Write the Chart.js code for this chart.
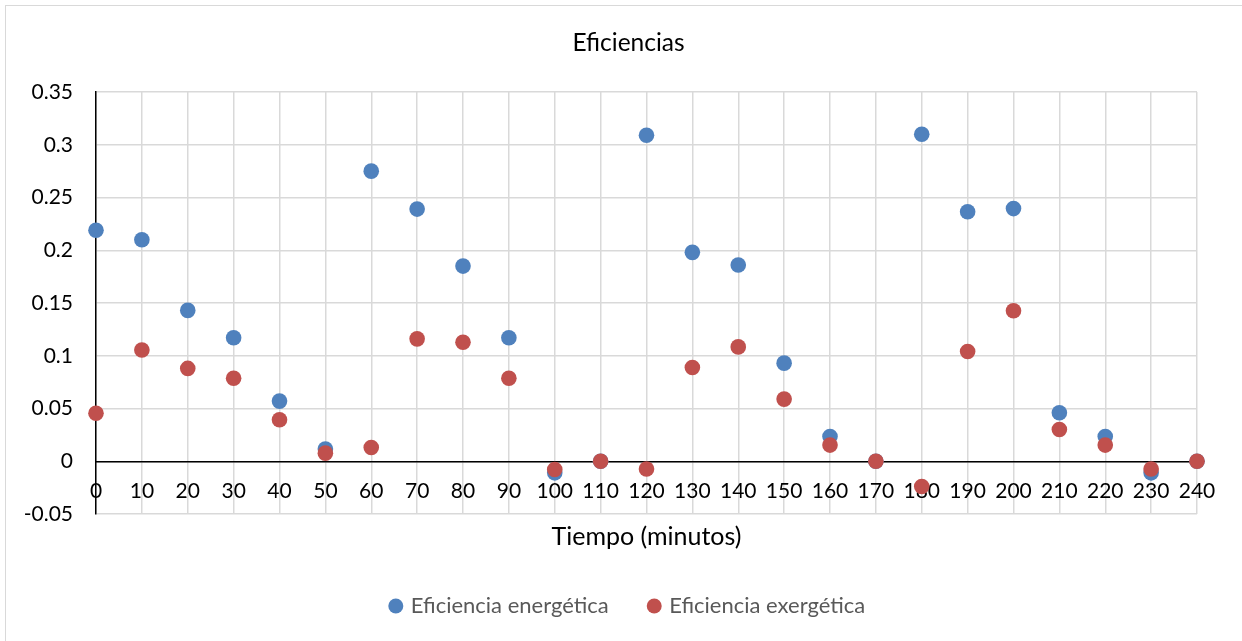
<!DOCTYPE html>
<html lang="es">
<head>
<meta charset="utf-8">
<title>Eficiencias</title>
<script src="https://cdn.jsdelivr.net/npm/chart.js@4/dist/chart.umd.min.js"></script>
<style>
  html, body { margin: 0; padding: 0; background: #fff; overflow: hidden; }
  #wrap { position: relative; width: 1242px; height: 641px; }
  #frame { position: absolute; left: 5px; top: 5px; width: 1300px; height: 700px;
           border: 1.5px solid #D9D9D9; box-sizing: border-box; }
  #c { position: absolute; left: 0; top: 0; }
</style>
</head>
<body>
<div id="wrap">
  <div id="frame"></div>
  <canvas id="c" width="1242" height="641"></canvas>
</div>
<script>
// Tiempo (minutos)
const tiempos = [0, 10, 20, 30, 40, 50, 60, 70, 80, 90, 100, 110, 120,
                 130, 140, 150, 160, 170, 180, 190, 200, 210, 220, 230, 240];

// Eficiencia energética
const energetica = [0.219, 0.210, 0.143, 0.117, 0.057, 0.0115, 0.275, 0.239, 0.185, 0.117,
                    -0.011, 0, 0.309, 0.198, 0.186, 0.093, 0.0235, 0, 0.310, 0.2365,
                    0.2395, 0.046, 0.0235, -0.011, 0];

// Eficiencia exergética
const exergetica = [0.0455, 0.1055, 0.088, 0.0787, 0.0393, 0.0077, 0.013, 0.116, 0.1128, 0.0787,
                    -0.0078, 0, -0.0074, 0.0888, 0.1084, 0.0589, 0.0153, 0, -0.024, 0.104,
                    0.1427, 0.0301, 0.0153, -0.0074, 0];

// Axis ticks
const xTicks = [0, 10, 20, 30, 40, 50, 60, 70, 80, 90, 100, 110, 120,
                130, 140, 150, 160, 170, 180, 190, 200, 210, 220, 230, 240];
const xTickLabels = xTicks.map(String);
const yTicks = [-0.05, 0, 0.05, 0.1, 0.15, 0.2, 0.25, 0.3, 0.35];
const yTickLabels = ['-0.05', '0', '0.05', '0.1', '0.15', '0.2', '0.25', '0.3', '0.35'];

const FAMILY = 'Lato, "Open Sans", sans-serif';
const tickFont = { family: FAMILY, size: 21 };
const GRID = '#D9D9D9';

const toPoints = ys => tiempos.map((t, i) => ({ x: t, y: ys[i] }));

new Chart(document.getElementById('c'), {
  type: 'scatter',
  data: {
    datasets: [
      {
        label: 'Eficiencia energética',
        data: toPoints(energetica),
        backgroundColor: '#4F81BD',
        borderColor: '#4F81BD',
        borderWidth: 0,
        pointRadius: 7.8,
        pointHoverRadius: 7.8,
        clip: false,
        order: 1
      },
      {
        label: 'Eficiencia exergética',
        data: toPoints(exergetica),
        backgroundColor: '#C0504D',
        borderColor: '#C0504D',
        borderWidth: 0,
        pointRadius: 7.8,
        pointHoverRadius: 7.8,
        clip: false,
        order: 0
      }
    ]
  },
  options: {
    responsive: false,
    animation: false,
    devicePixelRatio: 1,
    layout: { padding: { left: 15, right: 0, top: 0, bottom: 14 } },
    plugins: {
      tooltip: { enabled: false },
      title: {
        display: true,
        text: 'Eficiencias',
        color: '#000',
        font: { family: FAMILY, size: 24.5, weight: 'normal' },
        padding: { top: 28.3, bottom: 34.3 }
      },
      legend: {
        position: 'bottom',
        labels: {
          usePointStyle: true,
          pointStyle: 'circle',
          boxWidth: 8,
          boxHeight: 10.6,
          padding: 41.5,
          color: '#595959',
          font: { family: FAMILY, size: 22 },
          sort: (a, b) => a.datasetIndex - b.datasetIndex
        }
      }
    },
    scales: {
      x: {
        type: 'linear',
        position: { y: 0 },
        min: 0,
        max: 240,
        afterBuildTicks: s => { s.ticks = xTicks.map(v => ({ value: v })); },
        ticks: {
          autoSkip: false,
          maxRotation: 0,
          padding: 17.6,
          color: '#000',
          font: tickFont,
          callback: (v, i) => xTickLabels[i]
        },
        grid: { color: GRID, lineWidth: 1.5, drawTicks: false },
        border: { color: '#000', width: 1.5 }
      },
      // bottom band under the plot carrying the horizontal axis title
      xTitulo: {
        type: 'linear',
        position: 'bottom',
        min: 0,
        max: 240,
        ticks: { display: false },
        grid: { display: false, drawTicks: false },
        border: { display: false },
        title: {
          display: true,
          text: 'Tiempo (minutos)',
          color: '#000',
          font: { family: FAMILY, size: 25 },
          padding: { top: 0, bottom: 1.5 }
        },
        afterFit: s => { s.height = 39.5; }
      },
      y: {
        type: 'linear',
        position: 'left',
        min: -0.05,
        max: 0.35,
        afterBuildTicks: s => { s.ticks = yTicks.map(v => ({ value: v })); },
        afterFit: s => { s.width = 81; },
        ticks: {
          padding: 23,
          color: '#000',
          font: tickFont,
          callback: (v, i) => yTickLabels[i]
        },
        grid: { color: GRID, lineWidth: 1.5, drawTicks: false },
        border: { color: '#000', width: 1.5 }
      },
      // empty right margin of the plot
      yDer: {
        type: 'linear',
        position: 'right',
        min: -0.05,
        max: 0.35,
        ticks: { display: false },
        grid: { display: false, drawTicks: false },
        border: { display: false },
        afterFit: s => { s.width = 45; }
      }
    }
  }
});
</script>
</body>
</html>
